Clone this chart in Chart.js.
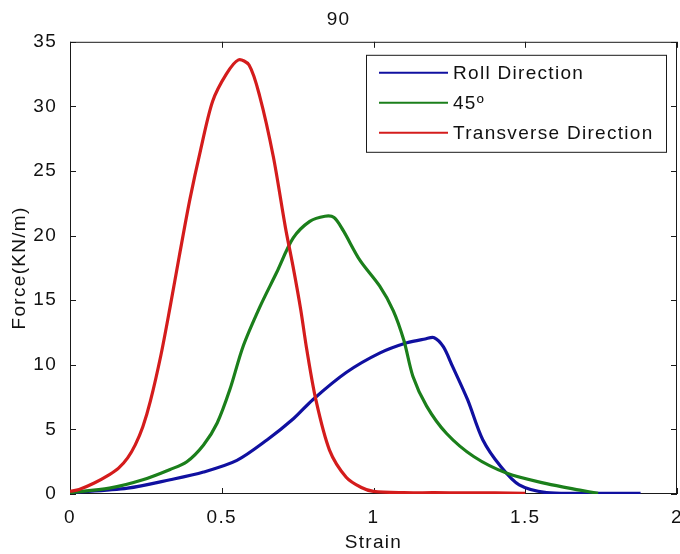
<!DOCTYPE html>
<html>
<head>
<meta charset="utf-8">
<script src="https://cdn.jsdelivr.net/npm/chart.js@4/dist/chart.umd.min.js"></script>
<style>
html, body { margin: 0; padding: 0; background: #fff; }
#wrap { width: 680px; height: 554px; }
</style>
</head>
<body>
<div id="wrap"><canvas id="forceChart" width="680" height="554"></canvas></div>
<script>
// data
const chartTitle = '90';
const xTicks = [0, 0.5, 1, 1.5, 2];
const yTicks = [0, 5, 10, 15, 20, 25, 30, 35];

const rollLabel = 'Roll Direction';
const rollStrain = [0, 0.19, 0.33, 0.44, 0.55, 0.65, 0.735, 0.80, 0.91, 1.02, 1.11, 1.17, 1.20, 1.23, 1.26, 1.31, 1.36, 1.42, 1.48, 1.57, 1.70, 1.88];
const rollForce = [0.1, 0.45, 1.1, 1.7, 2.6, 4.2, 5.8, 7.3, 9.4, 10.9, 11.7, 12.0, 12.1, 11.4, 9.9, 7.3, 4.2, 2.1, 0.7, 0.1, 0.05, 0.05];

const diagLabel = '45º';
const diagStrain = [0, 0.13, 0.24, 0.33, 0.385, 0.44, 0.485, 0.527, 0.57, 0.626, 0.68, 0.735, 0.79, 0.84, 0.87, 0.90, 0.955, 1.02, 1.065, 1.10, 1.13, 1.175, 1.24, 1.33, 1.44, 1.57, 1.68, 1.74];
const diagForce = [0.1, 0.45, 1.1, 1.9, 2.5, 3.8, 5.5, 8.1, 11.4, 14.5, 17.1, 19.8, 21.1, 21.5, 21.4, 20.4, 18.1, 16.1, 14.2, 11.9, 9.1, 6.8, 4.7, 2.9, 1.6, 0.8, 0.3, 0.05];

const transLabel = 'Transverse Direction';
const transStrain = [0, 0.03, 0.08, 0.13, 0.16, 0.19, 0.215, 0.24, 0.265, 0.30, 0.33, 0.36, 0.395, 0.43, 0.47, 0.515, 0.555, 0.59, 0.625, 0.67, 0.71, 0.735, 0.76, 0.78, 0.81, 0.855, 0.91, 0.96, 1.0, 1.1, 1.2, 1.3, 1.4, 1.5];
const transForce = [0.2, 0.35, 0.85, 1.5, 2.0, 2.8, 3.8, 5.2, 7.2, 10.8, 14.5, 18.4, 22.8, 26.6, 30.4, 32.5, 33.6, 33.2, 30.8, 26.1, 20.6, 17.6, 14.3, 11.2, 7.3, 3.4, 1.3, 0.5, 0.2, 0.1, 0.1, 0.08, 0.08, 0.05];

function toPoints(xs, ys) {
    return xs.map((x, i) => ({ x: x, y: ys[i] }));
}

const tickLen = 6;

// matlab style box, inward ticks and boxed legend
const matlabFrame = {
    id: 'matlabFrame',
    beforeUpdate(chart) {
        chart.ctx.letterSpacing = '1.3px';
    },
    beforeDatasetsDraw(chart) {
        const { ctx, chartArea: a, scales: { x, y } } = chart;
        ctx.save();
        ctx.strokeStyle = '#1a1a1a';
        ctx.lineWidth = 1;
        ctx.strokeRect(a.left + 0.5, a.top + 0.5, a.right - a.left - 1, a.bottom - a.top - 1);
        ctx.beginPath();
        x.ticks.forEach(t => {
            const px = Math.round(x.getPixelForValue(t.value)) + 0.5;
            ctx.moveTo(px, a.bottom); ctx.lineTo(px, a.bottom - tickLen);
            ctx.moveTo(px, a.top); ctx.lineTo(px, a.top + tickLen);
        });
        y.ticks.forEach(t => {
            const py = Math.round(y.getPixelForValue(t.value)) + 0.5;
            ctx.moveTo(a.left, py); ctx.lineTo(a.left + tickLen, py);
            ctx.moveTo(a.right, py); ctx.lineTo(a.right - tickLen, py);
        });
        ctx.stroke();
        ctx.restore();
    },
    afterDatasetsDraw(chart) {
        const { ctx, chartArea: a } = chart;
        const sets = chart.data.datasets;
        ctx.save();
        ctx.font = "19px 'Liberation Sans', Arial, sans-serif";
        let maxW = 0;
        sets.forEach(ds => { maxW = Math.max(maxW, ctx.measureText(ds.label).width); });
        const boxW = Math.round(87 + maxW + 12);
        const boxH = 97;
        const left = a.right - 11 - boxW;
        const top = a.top + 13;
        ctx.fillStyle = '#fff';
        ctx.fillRect(left, top, boxW, boxH);
        ctx.strokeStyle = '#1a1a1a';
        ctx.lineWidth = 1;
        ctx.strokeRect(left + 0.5, top + 0.5, boxW, boxH);
        sets.forEach((ds, i) => {
            const ry = top + 18 + i * 30;
            ctx.strokeStyle = ds.borderColor;
            ctx.lineWidth = 2;
            ctx.beginPath();
            ctx.moveTo(left + 13, ry);
            ctx.lineTo(left + 82, ry);
            ctx.stroke();
            ctx.fillStyle = '#111';
            ctx.textBaseline = 'middle';
            ctx.textAlign = 'left';
            ctx.fillText(ds.label, left + 87, ry + 1);
        });
        ctx.restore();
    }
};

Chart.defaults.font.family = "'Liberation Sans', Arial, sans-serif";
Chart.defaults.font.size = 19;
Chart.defaults.color = '#111';

const ctx = document.getElementById('forceChart').getContext('2d');
new Chart(ctx, {
    type: 'line',
    data: {
        datasets: [{
            label: rollLabel,
            data: toPoints(rollStrain, rollForce),
            borderColor: '#1010a0',
            order: 3
        }, {
            label: diagLabel,
            data: toPoints(diagStrain, diagForce),
            borderColor: '#1b7f1b',
            order: 2
        }, {
            label: transLabel,
            data: toPoints(transStrain, transForce),
            borderColor: '#d41c1c',
            order: 1
        }]
    },
    options: {
        responsive: false,
        animation: false,
        layout: { padding: { left: 0, right: 3, top: 0, bottom: 0 } },
        elements: {
            point: { radius: 0 },
            line: { borderWidth: 3.2, tension: 0.3, fill: false }
        },
        plugins: {
            legend: { display: false },
            tooltip: { enabled: false },
            title: {
                display: true,
                text: chartTitle,
                font: { size: 19, weight: 'normal' },
                color: '#111',
                padding: { top: 8, bottom: 11 }
            }
        },
        scales: {
            x: {
                type: 'linear',
                min: xTicks[0],
                max: xTicks[xTicks.length - 1],
                grid: { display: false },
                border: { display: false },
                afterBuildTicks: scale => { scale.ticks = xTicks.map(v => ({ value: v })); },
                ticks: {
                    autoSkip: false,
                    maxRotation: 0,
                    padding: 4,
                    callback: v => String(v)
                },
                title: { display: true, text: 'Strain', padding: { top: 0, bottom: 0 } },
                afterFit: scale => {
                    scale.height = 60;
                    scale.paddingLeft = 0;
                    scale.paddingRight = 0;
                }
            },
            y: {
                min: yTicks[0],
                max: yTicks[yTicks.length - 1],
                grid: { display: false },
                border: { display: false },
                afterBuildTicks: scale => { scale.ticks = yTicks.map(v => ({ value: v })); },
                ticks: { padding: 5, callback: v => String(v) },
                title: { display: true, text: 'Force(KN/m)', padding: { top: 8, bottom: 0 } },
                afterFit: scale => {
                    scale.width = 70;
                    scale.paddingTop = 0;
                    scale.paddingBottom = 0;
                }
            }
        }
    },
    plugins: [matlabFrame]
});
</script>
</body>
</html>
